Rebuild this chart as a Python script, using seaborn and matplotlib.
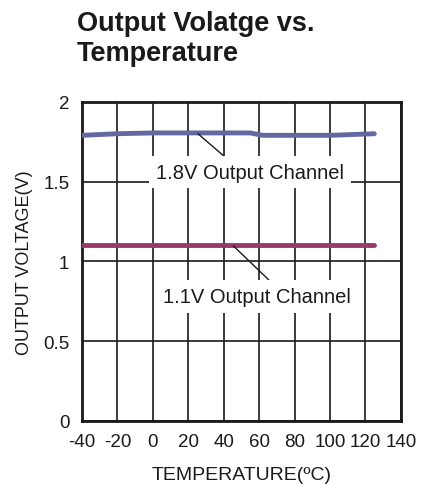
import pandas as pd
import numpy as np
import matplotlib
matplotlib.use("Agg")
import matplotlib.pyplot as plt
import seaborn as sns

# values
temps = [-40, -20, 0, 20, 40, 55, 62, 80, 100, 125]
v18 = [1.79, 1.80, 1.805, 1.805, 1.805, 1.805, 1.79, 1.79, 1.79, 1.80]
v11 = [1.10, 1.10, 1.10, 1.10, 1.10, 1.10, 1.10, 1.10, 1.10, 1.10]
x_ticks = [-40, -20, 0, 20, 40, 60, 80, 100, 120, 140]
y_ticks = [0, 0.5, 1, 1.5, 2]
y_tick_labels = ["0", "0.5", "1", "1.5", "2"]

df = pd.DataFrame({"temp": temps * 2,
                   "volt": v18 + v11,
                   "channel": ["1.8V"] * len(temps) + ["1.1V"] * len(temps)})

sns.set_style("white")
plt.rcParams['font.family'] = ['Liberation Sans', 'DejaVu Sans']
plt.rcParams['axes.unicode_minus'] = False

fig = plt.figure(figsize=(4.22, 4.85), dpi=100)
ax = fig.add_axes([0.194, 0.130, 0.756, 0.658])

sns.lineplot(data=df, x="temp", y="volt", hue="channel",
             palette={"1.8V": "#6468a0", "1.1V": "#983a6c"},
             linewidth=3.5, legend=False, ax=ax, zorder=3)

ax.set_xlim(-40, 140)
ax.set_ylim(0, 2)
ax.set_xticks(x_ticks)
ax.set_yticks(y_ticks)
ax.set_yticklabels(y_tick_labels)
ax.grid(True, color="#1a1a1a", linewidth=1.2)
ax.tick_params(length=0, labelsize=13.5, pad=9, colors="#1a1a1a")
ax.tick_params(axis="y", pad=9)
for s in ax.spines.values():
    s.set_color("#1a1a1a")
    s.set_linewidth(2)

ax.set_xlabel("TEMPERATURE(ºC)", fontsize=14, color="#1a1a1a", labelpad=11)
ax.set_ylabel("OUTPUT VOLTAGE(V)", fontsize=13, color="#1a1a1a", labelpad=7)

box = dict(facecolor="white", edgecolor="none", pad=5)
ax.annotate("1.8V Output Channel", xy=(25.5, 1.80), xytext=(55, 1.56),
            fontsize=14.5, ha="center", va="center", color="#1a1a1a", bbox=box,
            arrowprops=dict(arrowstyle="-", color="#1a1a1a", lw=1,
                            shrinkA=0, shrinkB=0, relpos=(0.4, 1.0)),
            zorder=4)
ax.annotate("1.1V Output Channel", xy=(45.5, 1.097), xytext=(59, 0.78),
            fontsize=14.5, ha="center", va="center", color="#1a1a1a", bbox=box,
            arrowprops=dict(arrowstyle="-", color="#1a1a1a", lw=1,
                            shrinkA=0, shrinkB=0, relpos=(0.6, 1.0)),
            zorder=4)

fig.text(0.183, 0.978, "Output Volatge vs.\nTemperature", fontsize=19.5,
         fontweight="bold", ha="left", va="top", color="#1a1a1a",
         linespacing=1.2)

fig.savefig("out.png", dpi=100)
